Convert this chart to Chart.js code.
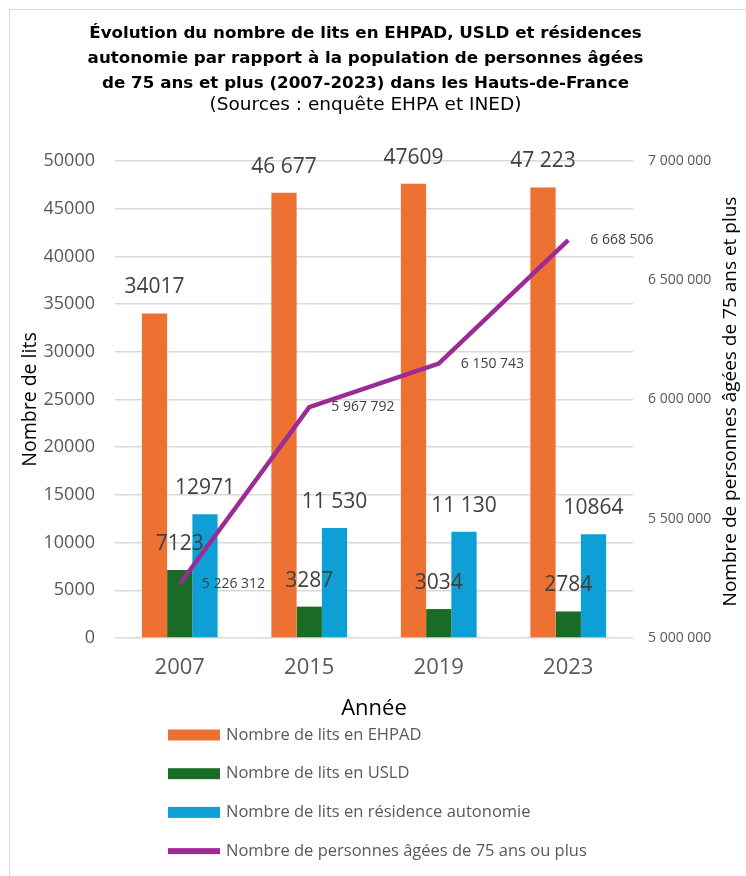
<!DOCTYPE html>
<html>
<head>
<meta charset="utf-8">
<script src="https://cdn.jsdelivr.net/npm/chart.js@4.4.1/dist/chart.umd.min.js"></script>
<style>
  html, body { margin: 0; padding: 0; background: #fff; }
  #wrap { position: relative; width: 746px; height: 876px; }
</style>
</head>
<body>
<div id="wrap"><canvas id="c" width="746" height="876"></canvas></div>
<script>
// ---- Data ----
const years = ['2007', '2015', '2019', '2023'];
const ehpad = [34017, 46677, 47609, 47223];
const usld = [7123, 3287, 3034, 2784];
const residence = [12971, 11530, 11130, 10864];
const population = [5226312, 5967792, 6150743, 6668506];
const ehpadLabels = ['34017', '46 677', '47609', '47 223'];
const usldLabels = ['7123', '3287', '3034', '2784'];
const residenceLabels = ['12971', '11 530', '11 130', '10864'];
const seriesNames = [
  'Nombre de lits en EHPAD',
  'Nombre de lits en USLD',
  'Nombre de lits en résidence autonomie',
  'Nombre de personnes âgées de 75 ans ou plus'
];
const titleLines = [
  'Évolution du nombre de lits en EHPAD, USLD et résidences',
  'autonomie par rapport à la population de personnes âgées',
  'de 75 ans et plus (2007-2023) dans les Hauts-de-France'
];
const subtitleText = '(Sources : enquête EHPA et INED)';
const xTitle = 'Année';
const yTitle = 'Nombre de lits';
const y1Title = 'Nombre de personnes âgées de 75 ans et plus';
const leftAxis = { min: 0, max: 50000, step: 5000 };
const rightAxis = { min: 5000000, max: 7000000, step: 500000 };

const fmt = v => String(v).replace(/\B(?=(\d{3})+(?!\d))/g, ' ');
const FONT = '"Open Sans"';
const TFONT = '"DejaVu Sans", "Open Sans"';
Chart.defaults.font.family = FONT;

// ---- Plugins ----
const frame = {
  id: 'frame',
  beforeDraw(chart) {
    const c = chart.ctx;
    c.save();
    c.fillStyle = '#fff';
    c.fillRect(0, 0, chart.width, chart.height);
    c.strokeStyle = '#d9d9d9';
    c.lineWidth = 1;
    c.strokeRect(9.5, 9.5, chart.width, chart.height);
    c.restore();
  }
};

const valueLabels = {
  id: 'valueLabels',
  afterDatasetsDraw(chart) {
    const c = chart.ctx;
    c.save();
    c.fillStyle = '#404040';
    c.textBaseline = 'middle';
    chart.data.datasets.forEach((ds, di) => {
      const meta = chart.getDatasetMeta(di);
      meta.data.forEach((el, i) => {
        const txt = ds.valueLabels[i];
        if (ds.type === 'line') {
          c.font = '14px ' + FONT;
          c.textAlign = 'left';
          c.fillText(txt, el.x + 22, el.y);
        } else {
          c.font = '21px ' + FONT;
          c.textAlign = 'center';
          c.fillText(txt, el.x, el.y - 26);
        }
      });
    });
    c.restore();
  }
};

const rightTitle = {
  id: 'rightTitle',
  afterDraw(chart) {
    const c = chart.ctx;
    const a = chart.chartArea;
    c.save();
    c.translate(731, (a.top + a.bottom) / 2 + 2);
    c.rotate(-Math.PI / 2);
    c.font = '19px ' + FONT;
    c.fillStyle = '#000';
    c.textAlign = 'center';
    c.textBaseline = 'middle';
    c.fillText(y1Title, 0, 0);
    c.restore();
  }
};

const listLegend = {
  id: 'listLegend',
  afterDraw(chart) {
    const c = chart.ctx;
    c.save();
    c.font = '16.5px ' + FONT;
    c.textAlign = 'left';
    c.textBaseline = 'middle';
    chart.data.datasets.forEach((ds, i) => {
      const y = 735 + i * 38.7;
      if (ds.type === 'line') {
        c.fillStyle = ds.borderColor;
        c.fillRect(168, y - 3, 52, 6);
      } else {
        c.fillStyle = ds.backgroundColor;
        c.fillRect(168, y - 5.5, 52, 11);
      }
      c.fillStyle = '#595959';
      c.fillText(ds.label, 226, y);
    });
    c.restore();
  }
};

// ---- Chart ----
new Chart(document.getElementById('c'), {
  data: {
    labels: years,
    datasets: [
      { type: 'bar', label: seriesNames[0], data: ehpad, backgroundColor: '#EC7133', yAxisID: 'y', order: 1, valueLabels: ehpadLabels },
      { type: 'bar', label: seriesNames[1], data: usld, backgroundColor: '#1A6B25', yAxisID: 'y', order: 1, valueLabels: usldLabels },
      { type: 'bar', label: seriesNames[2], data: residence, backgroundColor: '#0E9FD6', yAxisID: 'y', order: 1, valueLabels: residenceLabels },
      { type: 'line', label: seriesNames[3], data: population, borderColor: '#9E2A96', backgroundColor: '#9E2A96',
        borderWidth: 4.5, pointRadius: 0, tension: 0, yAxisID: 'y1', order: 0, valueLabels: population.map(fmt) }
    ]
  },
  options: {
    responsive: false,
    animation: false,
    devicePixelRatio: 1,
    layout: { padding: { top: 10, left: 20, right: 35, bottom: 151.8 } },
    datasets: { bar: { categoryPercentage: 0.585, barPercentage: 1 } },
    plugins: {
      legend: { display: false },
      tooltip: { enabled: false },
      title: {
        display: true, text: titleLines, color: '#000',
        font: { family: TFONT, size: 16.7, weight: 'bold', lineHeight: 25 / 16.7 },
        padding: { top: 11, bottom: 0 }
      },
      subtitle: {
        display: true, text: subtitleText, color: '#000',
        font: { family: TFONT, size: 18.5, lineHeight: 18 / 18.5 },
        padding: { top: 0, bottom: 47 }
      }
    },
    scales: {
      x: {
        grid: { display: false, drawTicks: false },
        border: { display: false },
        ticks: { font: { size: 22 }, color: '#595959', padding: 17 },
        title: { display: true, text: xTitle, color: '#000', font: { size: 22 }, padding: { top: 3, bottom: 2 } },
        afterFit: s => { s.height = 86.2; }
      },
      y: {
        position: 'left', min: leftAxis.min, max: leftAxis.max,
        ticks: { stepSize: leftAxis.step, callback: v => String(v), font: { size: 18 }, color: '#595959', padding: 20 },
        grid: { color: '#d9d9d9', lineWidth: 1.5, drawTicks: false },
        border: { display: false },
        title: { display: true, text: yTitle, color: '#000',
          font: { size: 19.5, lineHeight: 20 / 19.5 },
          padding: { top: 0, bottom: 0 } },
        afterFit: s => { s.width = 95; }
      },
      y1: {
        position: 'right', min: rightAxis.min, max: rightAxis.max,
        ticks: { stepSize: rightAxis.step, callback: v => fmt(v), font: { size: 14 }, color: '#595959', padding: 15 },
        grid: { display: false, drawTicks: false },
        border: { display: false },
        afterFit: s => { s.width = 78; }
      }
    }
  },
  plugins: [frame, valueLabels, rightTitle, listLegend]
});
</script>
</body>
</html>
